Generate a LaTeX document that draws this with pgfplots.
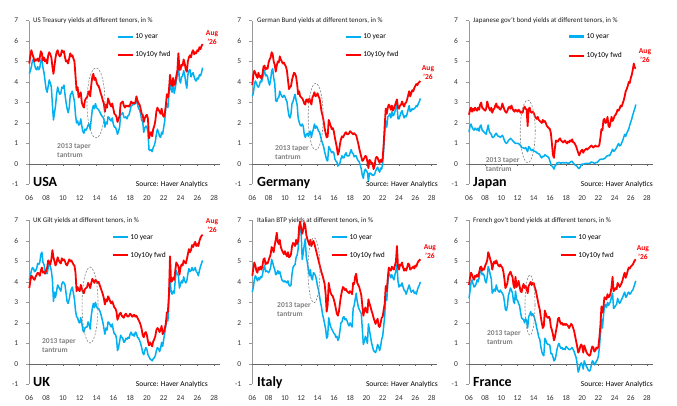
\documentclass[border=0pt]{standalone}
\usepackage{fontspec}
\setmainfont{Carlito}
\usepackage{pgfplots}
\usepackage{pgfplotstable}
\pgfplotsset{compat=1.18}
\definecolor{tenyr}{RGB}{0,176,240}
\definecolor{fwdred}{RGB}{255,0,0}
\definecolor{tapergray}{RGB}{128,128,128}

% columns: ten = 10 year yield, fwd = 10y10y forward; one row per 1/8 year from Jan 2006 to Aug 2026
\pgfplotstableread[row sep=\\]{ten fwd\\
4.40 4.90\\ 4.55 5.30\\ 4.75 5.55\\ 5.05 5.35\\ 5.10 5.20\\ 4.85 5.00\\ 4.65 5.10\\ 4.60 5.05\\
4.75 5.15\\ 4.60 5.00\\ 4.70 5.20\\ 5.05 5.50\\ 5.15 5.40\\ 4.70 5.05\\ 4.45 5.20\\ 4.05 5.00\\
3.65 5.10\\ 3.50 4.90\\ 3.80 5.30\\ 4.10 5.45\\ 3.95 5.35\\ 3.75 5.20\\ 2.90 4.75\\ 2.15 4.40\\
2.50 4.80\\ 2.85 5.20\\ 3.40 5.45\\ 3.75 5.55\\ 3.55 5.35\\ 3.40 5.25\\ 3.45 5.30\\ 3.75 5.55\\
3.70 5.45\\ 3.85 5.50\\ 3.40 5.20\\ 3.00 5.00\\ 2.70 5.05\\ 2.50 4.90\\ 2.75 5.15\\ 3.35 5.40\\
3.45 5.25\\ 3.55 5.30\\ 3.30 5.15\\ 3.05 5.00\\ 2.40 4.30\\ 2.00 3.60\\ 2.10 3.75\\ 1.90 3.25\\
1.95 3.35\\ 2.20 3.50\\ 1.85 3.00\\ 1.60 2.85\\ 1.50 2.75\\ 1.70 3.10\\ 1.65 3.20\\ 1.75 3.25\\
1.90 3.45\\ 1.95 3.55\\ 1.70 3.30\\ 2.20 3.85\\ 2.65 4.25\\ 2.85 4.40\\ 2.70 4.10\\ 2.95 4.20\\
2.75 4.00\\ 2.70 3.85\\ 2.65 3.80\\ 2.55 3.65\\ 2.45 3.45\\ 2.35 3.30\\ 2.30 3.10\\ 2.20 2.95\\
1.80 2.55\\ 2.05 2.90\\ 1.95 2.75\\ 2.30 3.20\\ 2.25 3.05\\ 2.15 2.90\\ 2.10 2.80\\ 2.25 2.95\\
1.95 2.70\\ 1.80 2.45\\ 1.80 2.40\\ 1.65 2.30\\ 1.45 2.05\\ 1.60 2.20\\ 1.80 2.35\\ 2.45 2.95\\
2.45 3.00\\ 2.50 3.05\\ 2.30 2.85\\ 2.25 2.75\\ 2.30 2.85\\ 2.20 2.80\\ 2.35 2.85\\ 2.40 2.80\\
2.60 2.90\\ 2.85 3.05\\ 2.85 2.95\\ 2.95 3.00\\ 2.90 2.95\\ 2.95 3.00\\ 3.15 3.30\\ 2.95 3.10\\
2.70 2.95\\ 2.65 2.90\\ 2.45 2.70\\ 2.15 2.45\\ 2.05 2.40\\ 1.55 2.05\\ 1.75 2.25\\ 1.85 2.35\\
1.80 2.40\\ 1.55 2.20\\ 0.70 1.25\\ 0.65 1.45\\ 0.70 1.55\\ 0.60 1.35\\ 0.80 1.70\\ 0.90 1.85\\
1.10 2.10\\ 1.45 2.55\\ 1.70 2.75\\ 1.55 2.65\\ 1.35 2.55\\ 1.30 2.45\\ 1.55 2.70\\ 1.45 2.40\\
1.80 2.30\\ 2.10 2.45\\ 2.80 2.85\\ 2.95 3.40\\ 2.75 3.25\\ 3.40 3.60\\ 4.05 4.35\\ 3.65 3.95\\
3.50 3.80\\ 3.85 4.20\\ 3.45 3.85\\ 3.70 3.95\\ 4.05 4.30\\ 4.35 4.55\\ 4.85 5.40\\ 4.10 4.60\\
3.95 4.60\\ 4.25 4.85\\ 4.30 4.80\\ 4.55 5.10\\ 4.35 4.90\\ 3.95 4.60\\ 3.70 4.50\\ 4.35 5.00\\
4.55 5.20\\ 4.60 5.30\\ 4.25 5.20\\ 4.40 5.45\\ 4.45 5.55\\ 4.25 5.35\\ 4.10 5.45\\ 4.05 5.40\\
4.20 5.55\\ 4.15 5.50\\ 4.35 5.70\\ 4.30 5.60\\ 4.45 5.75\\ 4.70 5.85\\
}\usa

\pgfplotstableread[row sep=\\]{ten fwd\\
3.30 3.85\\ 3.45 4.35\\ 3.85 4.55\\ 4.05 4.45\\ 3.95 4.30\\ 3.80 4.20\\ 3.75 4.45\\ 3.85 4.25\\
4.05 4.30\\ 4.00 4.15\\ 4.15 4.40\\ 4.45 4.75\\ 4.55 4.80\\ 4.30 4.60\\ 4.35 4.70\\ 4.25 4.65\\
4.00 4.95\\ 3.85 5.10\\ 4.10 5.20\\ 4.55 5.45\\ 4.65 5.35\\ 4.20 5.00\\ 3.95 4.85\\ 3.10 4.50\\
3.05 4.80\\ 3.20 5.00\\ 3.25 4.95\\ 3.55 5.25\\ 3.40 5.10\\ 3.30 5.00\\ 3.25 4.90\\ 3.35 4.95\\
3.30 4.85\\ 3.15 4.75\\ 3.05 4.55\\ 2.65 4.10\\ 2.35 3.65\\ 2.25 3.75\\ 2.45 3.80\\ 2.95 4.10\\
3.05 4.30\\ 3.25 4.45\\ 3.40 4.40\\ 3.10 4.25\\ 2.90 3.90\\ 2.25 3.40\\ 2.05 3.55\\ 1.90 3.30\\
1.85 3.25\\ 1.95 3.20\\ 1.85 3.10\\ 1.45 2.95\\ 1.30 2.90\\ 1.45 3.15\\ 1.50 3.15\\ 1.35 3.00\\
1.55 3.20\\ 1.60 3.05\\ 1.30 2.90\\ 1.55 3.25\\ 1.70 3.35\\ 1.95 3.50\\ 1.75 3.30\\ 1.85 3.35\\
1.75 3.45\\ 1.60 3.30\\ 1.55 3.20\\ 1.35 2.90\\ 1.15 2.55\\ 1.00 2.35\\ 0.85 2.10\\ 0.60 1.75\\
0.40 1.50\\ 0.20 1.30\\ 0.15 1.35\\ 0.85 2.15\\ 0.75 2.00\\ 0.65 1.85\\ 0.55 1.70\\ 0.60 1.75\\
0.55 1.60\\ 0.25 1.30\\ 0.15 1.05\\ 0.10 0.80\\ -0.10 0.45\\ -0.05 0.60\\ 0.05 0.95\\ 0.25 1.20\\
0.40 1.35\\ 0.30 1.30\\ 0.30 1.40\\ 0.45 1.50\\ 0.55 1.55\\ 0.40 1.45\\ 0.40 1.45\\ 0.40 1.50\\
0.55 1.60\\ 0.70 1.55\\ 0.55 1.50\\ 0.50 1.45\\ 0.35 1.50\\ 0.40 1.45\\ 0.40 1.40\\ 0.25 1.20\\
0.15 1.00\\ 0.10 0.75\\ -0.05 0.55\\ -0.25 0.35\\ -0.55 0.15\\ -0.70 0.20\\ -0.35 0.30\\ -0.25 0.40\\
-0.35 0.35\\ -0.40 0.10\\ -0.85 -0.20\\ -0.45 0.20\\ -0.45 0.15\\ -0.50 0.00\\ -0.55 0.05\\ -0.55 -0.25\\
-0.50 -0.10\\ -0.35 0.25\\ -0.25 0.35\\ -0.15 0.30\\ -0.30 0.15\\ -0.40 0.05\\ -0.20 0.20\\ -0.25 0.10\\
0.05 0.30\\ 0.70 1.00\\ 1.55 1.90\\ 2.10 2.70\\ 1.80 2.45\\ 2.30 2.75\\ 2.35 2.90\\ 2.45 2.80\\
2.25 2.65\\ 2.55 2.85\\ 2.35 2.60\\ 2.40 2.70\\ 2.55 2.85\\ 2.75 3.00\\ 2.95 3.15\\ 2.20 2.75\\
2.20 2.70\\ 2.35 2.85\\ 2.50 2.90\\ 2.60 3.05\\ 2.40 2.90\\ 2.25 2.80\\ 2.35 2.95\\ 2.30 3.00\\
2.45 3.15\\ 2.65 3.35\\ 2.85 3.55\\ 2.55 3.30\\ 2.60 3.45\\ 2.70 3.60\\ 2.65 3.55\\ 2.70 3.70\\
2.75 3.80\\ 2.85 3.90\\ 2.80 3.85\\ 2.95 3.95\\ 3.05 4.00\\ 3.20 4.05\\
}\ger

\pgfplotstableread[row sep=\\]{ten fwd\\
1.55 2.40\\ 1.85 2.65\\ 1.95 2.75\\ 1.80 2.55\\ 1.70 2.70\\ 1.65 2.60\\ 1.75 2.75\\ 1.70 2.65\\
1.65 2.60\\ 1.75 2.75\\ 1.60 2.65\\ 1.85 2.90\\ 1.90 3.00\\ 1.65 2.75\\ 1.60 2.70\\ 1.55 2.65\\
1.50 2.60\\ 1.45 2.70\\ 1.70 3.05\\ 1.90 2.85\\ 1.60 2.70\\ 1.50 2.60\\ 1.45 2.75\\ 1.30 2.50\\
1.30 2.65\\ 1.35 2.70\\ 1.45 2.85\\ 1.50 2.95\\ 1.40 2.75\\ 1.35 2.80\\ 1.35 2.70\\ 1.30 2.65\\
1.35 2.75\\ 1.40 2.95\\ 1.30 2.80\\ 1.15 2.65\\ 1.05 2.55\\ 1.00 2.50\\ 1.05 2.60\\ 1.15 2.75\\
1.20 2.80\\ 1.25 2.70\\ 1.20 2.85\\ 1.15 2.70\\ 1.10 2.60\\ 1.05 2.55\\ 1.00 2.65\\ 1.00 2.60\\
1.00 2.55\\ 1.00 2.65\\ 0.95 2.60\\ 0.90 2.50\\ 0.80 2.55\\ 0.80 2.50\\ 0.78 2.70\\ 0.75 2.80\\
0.80 2.70\\ 0.70 2.65\\ 0.60 1.85\\ 0.85 2.70\\ 0.80 2.75\\ 0.70 2.55\\ 0.65 2.50\\ 0.70 2.55\\
0.65 2.50\\ 0.62 2.35\\ 0.60 2.25\\ 0.55 2.20\\ 0.52 2.30\\ 0.50 2.15\\ 0.45 2.10\\ 0.35 2.05\\
0.30 2.00\\ 0.38 2.15\\ 0.36 2.05\\ 0.45 2.10\\ 0.42 2.00\\ 0.38 1.85\\ 0.35 1.80\\ 0.30 1.75\\
0.15 1.70\\ 0.00 1.50\\ -0.10 1.00\\ -0.15 0.45\\ -0.25 0.30\\ -0.10 0.80\\ -0.05 1.15\\ 0.05 1.10\\
0.05 1.10\\ 0.08 1.20\\ 0.06 1.25\\ 0.03 1.15\\ 0.07 1.10\\ 0.06 1.05\\ 0.05 1.10\\ 0.05 1.15\\
0.07 1.05\\ 0.05 1.00\\ 0.04 1.10\\ 0.03 1.05\\ 0.08 1.15\\ 0.12 1.10\\ 0.13 1.20\\ 0.05 1.05\\
0.00 1.05\\ -0.05 0.95\\ -0.08 0.85\\ -0.12 0.70\\ -0.20 0.55\\ -0.22 0.42\\ -0.15 0.55\\ -0.03 0.65\\
0.00 0.70\\ -0.03 0.55\\ 0.02 0.65\\ 0.02 0.70\\ 0.03 0.75\\ 0.03 0.70\\ 0.03 0.75\\ 0.02 0.80\\
0.05 0.85\\ 0.10 0.90\\ 0.08 0.85\\ 0.06 0.80\\ 0.03 0.85\\ 0.05 0.90\\ 0.08 0.85\\ 0.07 0.85\\
0.15 0.85\\ 0.20 0.95\\ 0.23 1.30\\ 0.24 1.70\\ 0.22 1.65\\ 0.25 2.15\\ 0.26 2.20\\ 0.30 2.00\\
0.38 2.05\\ 0.40 2.30\\ 0.42 1.85\\ 0.40 1.80\\ 0.50 2.05\\ 0.60 2.30\\ 0.72 2.10\\ 0.62 2.20\\
0.65 2.35\\ 0.72 2.40\\ 0.80 2.50\\ 0.92 2.65\\ 1.00 2.60\\ 0.88 2.70\\ 0.92 2.85\\ 1.02 2.80\\
1.15 2.95\\ 1.30 3.10\\ 1.45 3.30\\ 1.35 3.55\\ 1.50 3.65\\ 1.60 3.80\\ 1.70 4.00\\ 1.90 3.95\\
2.05 4.20\\ 2.20 4.35\\ 2.40 4.60\\ 2.55 4.90\\ 2.70 4.70\\ 2.90 4.65\\
}\jap

\pgfplotstableread[row sep=\\]{ten fwd\\
4.10 3.70\\ 4.30 4.05\\ 4.55 4.30\\ 4.70 4.25\\ 4.65 4.15\\ 4.50 4.10\\ 4.55 4.25\\ 4.65 4.35\\
4.90 4.45\\ 4.85 4.40\\ 4.95 4.30\\ 5.35 4.55\\ 5.45 4.70\\ 4.95 4.45\\ 4.85 4.50\\ 4.55 4.40\\
4.45 4.55\\ 4.40 4.70\\ 4.70 5.05\\ 5.00 4.95\\ 4.75 4.85\\ 4.55 5.10\\ 4.10 5.55\\ 3.05 5.20\\
3.50 5.00\\ 3.25 4.80\\ 3.55 4.95\\ 3.85 5.20\\ 3.75 5.05\\ 3.65 4.95\\ 3.55 4.90\\ 3.90 5.15\\
4.00 5.05\\ 3.95 5.10\\ 3.85 5.00\\ 3.45 4.85\\ 3.05 4.80\\ 2.95 4.95\\ 3.15 5.10\\ 3.45 5.00\\
3.65 5.05\\ 3.75 4.95\\ 3.45 4.85\\ 3.15 4.80\\ 2.60 4.45\\ 2.30 3.55\\ 2.25 3.75\\ 2.05 3.60\\
2.00 3.55\\ 2.25 3.85\\ 2.00 3.70\\ 1.65 3.50\\ 1.55 3.45\\ 1.75 3.65\\ 1.80 3.70\\ 1.80 3.75\\
2.05 3.95\\ 1.90 3.85\\ 1.70 3.70\\ 2.35 3.95\\ 2.70 4.15\\ 2.95 4.05\\ 2.75 3.95\\ 3.00 4.10\\
2.80 4.05\\ 2.70 3.95\\ 2.70 4.00\\ 2.60 3.85\\ 2.45 3.70\\ 2.25 3.55\\ 2.05 3.40\\ 1.75 3.20\\
1.45 2.90\\ 1.75 3.15\\ 1.65 3.05\\ 2.05 3.30\\ 2.00 3.20\\ 1.90 3.05\\ 1.80 2.95\\ 1.95 3.05\\
1.65 2.90\\ 1.45 2.75\\ 1.45 2.70\\ 1.25 2.55\\ 0.65 2.15\\ 0.80 2.30\\ 1.10 2.45\\ 1.40 2.50\\
1.30 2.35\\ 1.25 2.30\\ 1.05 2.25\\ 1.10 2.40\\ 1.25 2.45\\ 1.20 2.35\\ 1.30 2.30\\ 1.25 2.35\\
1.45 2.45\\ 1.55 2.40\\ 1.40 2.30\\ 1.45 2.35\\ 1.35 2.40\\ 1.55 2.30\\ 1.50 2.35\\ 1.30 2.25\\
1.25 2.15\\ 1.15 2.05\\ 1.00 1.90\\ 0.80 1.70\\ 0.55 1.40\\ 0.45 1.30\\ 0.65 1.50\\ 0.80 1.55\\
0.70 1.40\\ 0.45 1.10\\ 0.35 0.90\\ 0.25 1.05\\ 0.20 0.95\\ 0.15 0.85\\ 0.25 1.10\\ 0.30 1.20\\
0.40 1.35\\ 0.65 1.65\\ 0.80 1.75\\ 0.75 1.70\\ 0.60 1.55\\ 0.75 1.65\\ 1.05 1.85\\ 0.85 1.45\\
1.20 1.55\\ 1.50 1.75\\ 1.85 1.95\\ 2.30 2.50\\ 2.10 2.55\\ 3.20 3.40\\ 4.20 5.25\\ 3.55 4.00\\
3.40 4.05\\ 3.55 4.20\\ 3.45 4.10\\ 4.10 4.55\\ 4.55 4.95\\ 4.40 4.85\\ 4.30 4.75\\ 3.70 4.35\\
3.90 4.70\\ 4.05 4.85\\ 3.95 4.80\\ 4.25 5.05\\ 4.05 4.95\\ 3.95 4.90\\ 4.05 5.10\\ 4.40 5.35\\
4.65 5.60\\ 4.50 5.45\\ 4.55 5.55\\ 4.70 5.80\\ 4.55 5.70\\ 4.60 5.85\\ 4.70 5.95\\ 4.50 5.75\\
4.45 5.85\\ 4.30 5.75\\ 4.55 6.00\\ 4.75 6.15\\ 4.90 6.25\\ 5.05 6.30\\
}\ukd

\pgfplotstableread[row sep=\\]{ten fwd\\
3.50 4.30\\ 3.75 4.65\\ 4.10 4.95\\ 4.30 4.80\\ 4.20 4.55\\ 4.05 4.45\\ 4.20 4.70\\ 4.10 4.60\\
4.25 4.75\\ 4.20 4.60\\ 4.35 4.80\\ 4.65 5.10\\ 4.80 5.15\\ 4.50 4.85\\ 4.55 4.95\\ 4.50 4.90\\
4.45 5.05\\ 4.55 5.20\\ 4.70 5.35\\ 5.10 5.70\\ 4.95 5.60\\ 4.75 5.45\\ 4.60 5.80\\ 4.35 6.05\\
4.40 6.40\\ 4.55 5.95\\ 4.40 5.85\\ 4.50 6.05\\ 4.30 5.70\\ 4.10 5.55\\ 4.05 5.45\\ 4.00 5.35\\
4.05 5.50\\ 4.00 5.35\\ 3.95 5.25\\ 4.05 5.45\\ 3.85 5.20\\ 3.80 5.25\\ 3.85 5.35\\ 4.40 5.75\\
4.70 5.90\\ 4.80 5.85\\ 4.85 5.75\\ 5.20 6.05\\ 5.30 5.85\\ 5.60 6.00\\ 6.40 6.70\\ 6.80 6.95\\
6.30 6.60\\ 5.10 6.35\\ 5.40 6.55\\ 5.80 6.90\\ 6.10 6.75\\ 5.20 6.30\\ 4.95 6.10\\ 4.60 5.95\\
4.30 5.80\\ 4.60 6.05\\ 4.20 5.75\\ 4.10 5.90\\ 4.45 6.00\\ 4.40 5.85\\ 4.30 5.65\\ 4.10 5.45\\
3.80 5.25\\ 3.60 5.05\\ 3.30 4.85\\ 3.00 4.65\\ 2.75 4.45\\ 2.40 4.30\\ 2.20 4.10\\ 1.95 3.90\\
1.70 3.40\\ 1.25 2.55\\ 1.35 2.90\\ 2.25 3.95\\ 2.00 3.65\\ 1.80 3.45\\ 1.70 3.35\\ 1.60 3.30\\
1.50 3.15\\ 1.45 2.95\\ 1.30 2.70\\ 1.35 2.45\\ 1.15 2.35\\ 1.25 2.55\\ 1.60 2.95\\ 2.00 3.30\\
2.05 3.55\\ 2.25 3.75\\ 2.30 3.70\\ 2.15 3.60\\ 2.20 3.65\\ 2.10 3.55\\ 1.95 3.50\\ 1.85 3.45\\
2.00 3.55\\ 1.90 3.50\\ 1.80 3.40\\ 2.70 3.95\\ 2.85 3.90\\ 3.15 4.25\\ 3.45 4.40\\ 3.05 3.95\\
2.80 3.85\\ 2.65 3.75\\ 2.55 3.55\\ 2.45 3.35\\ 1.70 2.85\\ 0.95 2.35\\ 1.10 2.60\\ 1.35 2.75\\
1.20 2.55\\ 1.00 2.50\\ 1.95 3.15\\ 1.65 2.95\\ 1.35 2.80\\ 1.05 2.60\\ 0.85 2.45\\ 0.65 2.25\\
0.60 2.10\\ 0.55 1.95\\ 0.70 2.10\\ 0.95 2.20\\ 0.85 1.85\\ 0.65 1.80\\ 0.85 2.00\\ 1.20 2.25\\
1.35 2.30\\ 1.85 2.65\\ 2.35 2.95\\ 3.40 3.80\\ 3.10 3.55\\ 3.90 4.20\\ 4.45 4.70\\ 4.35 4.60\\
4.20 4.55\\ 4.35 4.75\\ 4.20 4.65\\ 4.10 4.60\\ 4.35 4.80\\ 4.55 5.00\\ 4.85 5.75\\ 4.05 4.75\\
3.75 4.60\\ 3.85 4.85\\ 3.80 4.80\\ 3.95 4.95\\ 3.75 4.70\\ 3.60 4.55\\ 3.55 4.65\\ 3.40 4.55\\
3.55 4.70\\ 3.70 4.90\\ 3.85 4.85\\ 3.65 4.60\\ 3.50 4.65\\ 3.55 4.70\\ 3.60 4.75\\ 3.45 4.65\\
3.50 4.80\\ 3.40 4.75\\ 3.60 4.90\\ 3.75 5.00\\ 3.85 5.05\\ 4.00 5.10\\
}\ita

\pgfplotstableread[row sep=\\]{ten fwd\\
3.20 3.85\\ 3.55 4.20\\ 3.95 4.45\\ 4.10 4.35\\ 3.90 4.20\\ 3.75 4.10\\ 3.80 4.30\\ 3.90 4.25\\
4.10 4.35\\ 4.00 4.25\\ 4.20 4.45\\ 4.50 4.70\\ 4.60 4.75\\ 4.35 4.55\\ 4.40 4.65\\ 4.30 4.60\\
4.05 4.80\\ 3.95 4.90\\ 4.25 5.05\\ 4.75 5.45\\ 4.60 5.30\\ 4.35 5.10\\ 4.15 4.95\\ 3.45 4.60\\
3.55 4.85\\ 3.65 5.00\\ 3.55 4.90\\ 3.85 5.05\\ 3.65 4.90\\ 3.55 4.80\\ 3.50 4.75\\ 3.60 4.85\\
3.50 4.75\\ 3.45 4.70\\ 3.35 4.50\\ 3.05 4.15\\ 2.65 3.70\\ 2.60 3.80\\ 2.85 3.95\\ 3.35 4.30\\
3.50 4.40\\ 3.70 4.50\\ 3.60 4.35\\ 3.45 4.25\\ 3.05 3.85\\ 2.95 3.70\\ 3.55 4.25\\ 3.15 3.75\\
3.10 3.85\\ 2.95 4.05\\ 2.85 3.80\\ 2.50 3.55\\ 2.25 3.50\\ 2.20 3.75\\ 2.15 3.90\\ 2.00 3.70\\
2.20 3.80\\ 2.10 3.70\\ 1.75 3.45\\ 2.30 3.80\\ 2.40 3.90\\ 2.55 4.00\\ 2.35 3.85\\ 2.45 3.95\\
2.35 3.95\\ 2.20 3.75\\ 2.00 3.60\\ 1.75 3.35\\ 1.55 3.10\\ 1.30 2.85\\ 1.20 2.65\\ 0.85 2.30\\
0.60 2.00\\ 0.45 1.75\\ 0.40 1.85\\ 1.25 2.60\\ 1.15 2.45\\ 1.00 2.30\\ 0.95 2.25\\ 0.95 2.30\\
0.90 2.20\\ 0.50 1.80\\ 0.50 1.65\\ 0.35 1.45\\ 0.15 1.15\\ 0.20 1.30\\ 0.40 1.60\\ 0.70 1.85\\
0.90 2.20\\ 1.00 2.25\\ 0.85 2.05\\ 0.75 1.95\\ 0.80 2.00\\ 0.70 1.90\\ 0.75 1.95\\ 0.70 1.90\\
0.85 1.95\\ 0.80 1.90\\ 0.75 1.85\\ 0.70 1.75\\ 0.70 1.85\\ 0.75 1.95\\ 0.80 1.90\\ 0.70 1.75\\
0.60 1.60\\ 0.45 1.35\\ 0.30 1.10\\ 0.00 0.85\\ -0.40 0.55\\ -0.25 0.65\\ -0.05 0.85\\ 0.05 0.95\\
-0.05 0.85\\ -0.25 0.55\\ 0.15 0.90\\ 0.00 0.75\\ -0.10 0.60\\ -0.20 0.50\\ -0.30 0.45\\ -0.35 0.40\\
-0.30 0.45\\ -0.05 0.70\\ 0.15 0.85\\ 0.10 0.80\\ -0.05 0.60\\ 0.00 0.65\\ 0.15 0.80\\ 0.20 0.75\\
0.40 0.85\\ 0.80 1.30\\ 1.45 1.90\\ 2.20 2.80\\ 1.75 2.50\\ 2.35 2.80\\ 2.85 3.25\\ 2.90 3.20\\
2.75 3.15\\ 3.00 3.40\\ 2.85 3.25\\ 2.95 3.30\\ 3.05 3.45\\ 3.30 3.75\\ 3.45 4.25\\ 2.70 3.55\\
2.75 3.60\\ 2.85 3.70\\ 2.90 3.65\\ 3.20 3.95\\ 3.05 3.85\\ 2.95 3.75\\ 3.05 3.85\\ 3.15 3.95\\
3.25 4.10\\ 3.40 4.30\\ 3.50 4.45\\ 3.25 4.20\\ 3.30 4.35\\ 3.45 4.55\\ 3.50 4.70\\ 3.40 4.65\\
3.45 4.75\\ 3.55 4.80\\ 3.60 4.85\\ 3.75 4.95\\ 3.90 5.05\\ 4.05 5.10\\
}\fra

\pgfplotsset{
  panel/.style={
    scale only axis, height=164pt,
    xmin=6, xmax=28.7, ymin=-1, ymax=7, clip=false,
    axis x line*=bottom, axis y line*=left, axis line style={-},
    x axis line style={draw=none}, y axis line style={draw=black!40},
    xtick={6,8,...,28}, xticklabels={06,08,10,12,14,16,18,20,22,24,26,28},
    ytick={-1,0,...,7}, yticklabels={-1,0,1,2,3,4,5,6,7},
    tick align=outside, major tick length=3pt,
    x tick style={draw=none}, y tick style={draw=black!40},
    tick label style={font=\fontsize{7.5}{9}\selectfont, text=black!80},
    x tick label style={anchor=center, yshift=-10.5pt, inner sep=0pt},
    y tick label style={anchor=east, inner sep=0pt, xshift=-8pt},
    legend image code/.code={\draw[#1, line width=2.2pt] (0pt,0pt) -- (15pt,0pt);},
    legend style={draw=none, fill=none, font=\fontsize{7.5}{9}\selectfont,
      inner sep=0pt, row sep=9.3pt, anchor=west,
      nodes={inner sep=1pt, text height=5.5pt, text depth=1.5pt}},
    legend cell align=left,
  },
  ten/.style={tenyr, line width=1.5pt, line join=round},
  fwd/.style={fwdred, line width=1.8pt, line join=round},
}
\newcommand{\zeroline}{%
  \draw[black!60, line width=0.6pt] (axis cs:6,0) -- (axis cs:28.7,0);
  \pgfplotsinvokeforeach{8,10,...,28}{\draw[black!60, line width=0.5pt] (axis cs:##1,0) -- ++(0pt,-2.5pt);}
}
\newcommand{\paneltitle}[2]{\node[anchor=west, inner sep=0pt, font=\fontsize{7}{8}\selectfont, text=black!90] at (axis description cs:#1,1) {#2};}
\newcommand{\country}[2]{\node[anchor=base west, inner sep=0pt, font=\fontsize{14}{14}\selectfont\bfseries] at (axis description cs:#1,-0.012) {#2};}
\newcommand{\source}[1]{\node[anchor=east, inner sep=0pt, font=\fontsize{7.5}{9}\selectfont] at (axis description cs:#1,0) {Source: Haver Analytics};}
\newcommand{\aug}[2]{\node[text=fwdred, font=\fontsize{7.5}{9}\selectfont\bfseries, align=center, inner sep=0pt] at (axis cs:#1,#2) {Aug\\'26};}
\newcommand{\taper}[2]{\node[anchor=west, align=left, text=tapergray, font=\fontsize{7.5}{9}\selectfont\bfseries, inner sep=0pt] at (axis cs:#1,#2) {2013 taper\\tantrum};}
\newcommand{\tantrum}[4]{\draw[tapergray, line width=0.6pt, dash pattern=on 2pt off 1.5pt] (axis cs:#1,#2) ellipse [x radius=#3pt, y radius=#4pt];}

\begin{document}
\begin{tikzpicture}
\useasboundingbox (0,0) rectangle (677pt,406pt);

% USA
\begin{axis}[panel, width=190.7pt, at={(29.3pt,221.5pt)}, anchor=south west,
  legend style={at={(axis description cs:0.46,0.8455)}}]
\zeroline
\paneltitle{0.019}{US Treasury yields at different tenors, in \%}
\addplot[ten] table[x expr=6+\coordindex/8, y=ten] {\usa};
\addlegendentry{10 year}
\addplot[fwd] table[x expr=6+\coordindex/8, y=fwd] {\usa};
\addlegendentry{10y10y fwd}
\tantrum{13.94}{2.98}{9}{35}
\country{0.019}{USA}
\source{0.937}
\aug{27.75}{6.17}
\taper{9.3}{0.66}
\end{axis}

% Germany
\begin{axis}[panel, width=185pt, at={(252.3pt,221.5pt)}, anchor=south west,
  legend style={at={(axis description cs:0.501,0.8455)}}]
\zeroline
\paneltitle{0.025}{German Bund yields at different tenors, in \%}
\addplot[ten] table[x expr=6+\coordindex/8, y=ten] {\ger};
\addlegendentry{10 year}
\addplot[fwd] table[x expr=6+\coordindex/8, y=fwd] {\ger};
\addlegendentry{10y10y fwd}
\tantrum{13.78}{2.31}{7.5}{33.3}
\country{0.025}{Germany}
\source{1.004}
\aug{27.56}{4.46}
\taper{8.79}{0.54}
\end{axis}

% Japan
\begin{axis}[panel, width=183.6pt, at={(469pt,221.5pt)}, anchor=south west,
  legend style={at={(axis description cs:0.54,0.843)}, row sep=10.3pt}]
\zeroline
\paneltitle{0.022}{Japanese gov't bond yields at different tenors, in \%}
\addplot[ten] table[x expr=6+\coordindex/8, y=ten] {\jap};
\addlegendentry{10 year}
\addplot[fwd] table[x expr=6+\coordindex/8, y=fwd] {\jap};
\addlegendentry{10y10y fwd}
\tantrum{13.26}{1.59}{7.5}{31.3}
\country{0.022}{Japan}
\source{1.002}
\aug{27.76}{5.29}
\taper{8.06}{-0.03}
\end{axis}

% UK
\begin{axis}[panel, width=190.7pt, at={(29.3pt,21.6pt)}, anchor=south west,
  legend style={at={(axis description cs:0.434,0.842)}, row sep=9pt}]
\zeroline
\paneltitle{0.019}{UK Gilt yields at different tenors, in \%}
\addplot[ten] table[x expr=6+\coordindex/8, y=ten] {\ukd};
\addlegendentry{10 year}
\addplot[fwd] table[x expr=6+\coordindex/8, y=fwd] {\ukd};
\addlegendentry{10y10y fwd}
\tantrum{13.23}{2.87}{8}{38}
\country{0.019}{UK}
\source{0.937}
\aug{27.75}{6.74}
\taper{7.51}{0.88}
\end{axis}

% Italy
\begin{axis}[panel, width=185pt, at={(252.3pt,21.6pt)}, anchor=south west,
  legend style={at={(axis description cs:0.426,0.842)}, row sep=9pt}]
\zeroline
\paneltitle{0.025}{Italian BTP yields at different tenors, in \%}
\addplot[ten] table[x expr=6+\coordindex/8, y=ten] {\ita};
\addlegendentry{10 year}
\addplot[fwd] table[x expr=6+\coordindex/8, y=fwd] {\ita};
\addlegendentry{10y10y fwd}
\tantrum{13.57}{4.57}{6}{32.5}
\country{0.025}{Italy}
\source{1.004}
\aug{27.8}{5.47}
\taper{9.03}{2.65}
\end{axis}

% France
\begin{axis}[panel, width=183.6pt, at={(469pt,21.6pt)}, anchor=south west,
  legend style={at={(axis description cs:0.496,0.842)}, row sep=9pt}]
\zeroline
\paneltitle{0.022}{French gov't bond yields at different tenors, in \%}
\addplot[ten] table[x expr=6+\coordindex/8, y=ten] {\fra};
\addlegendentry{10 year}
\addplot[fwd] table[x expr=6+\coordindex/8, y=fwd] {\fra};
\addlegendentry{10y10y fwd}
\tantrum{13.54}{2.87}{5}{30}
\country{0.022}{France}
\source{1.002}
\aug{27.5}{5.43}
\taper{8.22}{1.29}
\end{axis}
\end{tikzpicture}
\end{document}
